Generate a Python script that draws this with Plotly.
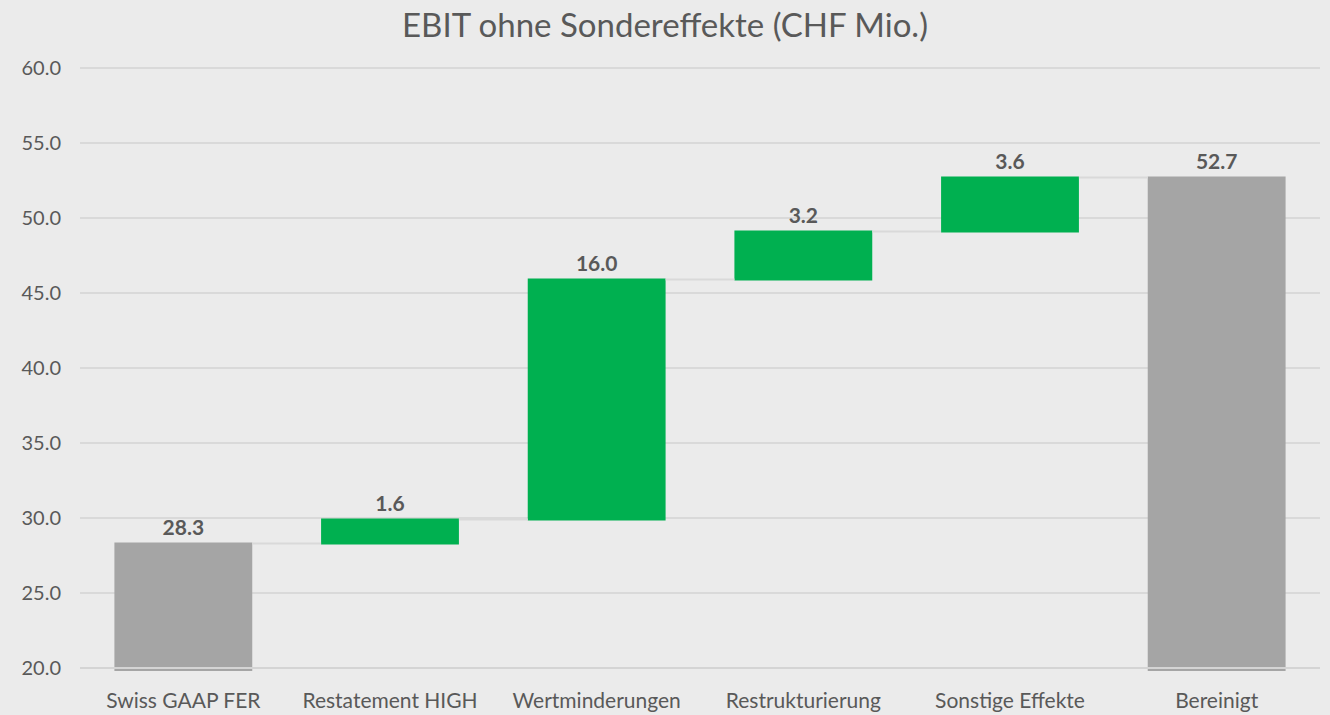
import plotly.graph_objects as go

categories = ["Swiss GAAP FER", "Restatement HIGH", "Wertminderungen",
              "Restrukturierung", "Sonstige Effekte", "Bereinigt"]
values = [28.3, 1.6, 16.0, 3.2, 3.6, 0]
measures = ["absolute", "relative", "relative", "relative", "relative", "total"]
labels = ["28.3", "1.6", "16.0", "3.2", "3.6", "52.7"]
y_ticks = [20, 25, 30, 35, 40, 45, 50, 55, 60]

FONT = "Lato, 'Open Sans', sans-serif"
TXT = "#595959"

fig = go.Figure(go.Waterfall(
    x=categories, y=values, measure=measures,
    text=labels, textposition="outside",
    textfont=dict(family=FONT, size=21, color=TXT, weight="bold"),
    increasing=dict(marker=dict(color="#00b050")),
    decreasing=dict(marker=dict(color="#ff0000")),
    totals=dict(marker=dict(color="#a5a5a5")),
    connector=dict(line=dict(color="#d9d9d9", width=2)),
    cliponaxis=False,
    hoverinfo="skip",
))

fig.add_shape(type="line", xref="x domain", yref="y", x0=0, x1=1, y0=20, y1=20,
              line=dict(color="#d4d4d4", width=2), layer="above")

fig.update_layout(
    width=1330, height=715,
    paper_bgcolor="#ebebeb", plot_bgcolor="#ebebeb",
    margin=dict(l=80, r=10, t=63, b=44, autoexpand=False),
    showlegend=False,
    waterfallgap=0.333,
    title=dict(text="EBIT ohne Sondereffekte (CHF Mio.)", x=0.5, xanchor="center",
               y=0.965, yanchor="middle",
               font=dict(family=FONT, size=33, color=TXT)),
    font=dict(family=FONT, color=TXT),
    xaxis=dict(showgrid=False, showline=False, zeroline=False, automargin=False,
               ticks="outside", ticklen=11, tickcolor="rgba(0,0,0,0)",
               tickfont=dict(family=FONT, size=21, color=TXT)),
    yaxis=dict(range=[19.8, 60.33], tickvals=y_ticks, automargin=False,
               ticktext=[f"{v:.1f}" for v in y_ticks],
               showgrid=True, gridcolor="#d9d9d9", gridwidth=2,
               zeroline=False, showline=False,
               ticks="outside", ticklen=14, tickcolor="rgba(0,0,0,0)",
               tickfont=dict(family=FONT, size=20, color=TXT)),
)

fig.write_html("out.html", config={"displayModeBar": False},
               post_script="document.body.style.margin='0';document.body.style.overflow='hidden';")
